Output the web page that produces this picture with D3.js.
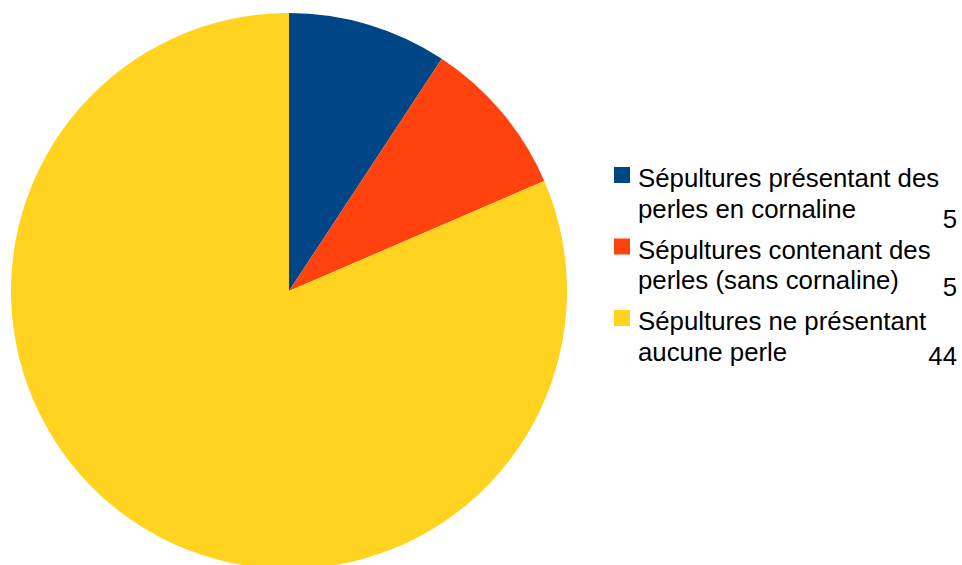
<!DOCTYPE html>
<html>
<head>
<meta charset="utf-8">
<script src="https://cdn.jsdelivr.net/npm/d3@7"></script>
<style>
  html, body { margin: 0; padding: 0; background: #fff; }
  svg { display: block; }
</style>
</head>
<body>
<svg id="chart" width="962" height="565"></svg>
<script>
const categories = [
  ["Sépultures présentant des", "perles en cornaline"],
  ["Sépultures contenant des", "perles (sans cornaline)"],
  ["Sépultures ne présentant", "aucune perle"]
];
const values = [5, 5, 44];
const colors = ["#004586", "#ff420e", "#ffd320"];

const svg = d3.select("#chart");
const cx = 289, cy = 291, r = 278;

const pie = d3.pie().sort(null).value(d => d)(values);
const arc = d3.arc().innerRadius(0).outerRadius(r);

svg.append("g")
  .attr("transform", `translate(${cx},${cy})`)
  .selectAll("path")
  .data(pie)
  .join("path")
  .attr("d", arc)
  .attr("fill", (d, i) => colors[i]);

const legend = svg.append("g")
  .attr("font-family", "'Liberation Sans', Arial, sans-serif")
  .attr("font-size", 25.8)
  .attr("fill", "#000");

const entryStep = 71.5, lineStep = 30.5, firstBase = 187;
const valueOffsets = [10, 7, 4];

categories.forEach((lines, i) => {
  const base = firstBase + i * entryStep;
  const g = legend.append("g");
  g.append("rect")
    .attr("x", 614).attr("y", base - 20)
    .attr("width", 16).attr("height", 16)
    .attr("fill", colors[i]);
  const t = g.append("text").attr("x", 638).attr("y", base);
  lines.forEach((l, j) => {
    t.append("tspan").attr("x", 638).attr("y", base + j * lineStep).text(l);
  });
  g.append("text")
    .attr("x", 957)
    .attr("y", base + lineStep + valueOffsets[i])
    .attr("text-anchor", "end")
    .text(values[i]);
});
</script>
</body>
</html>
